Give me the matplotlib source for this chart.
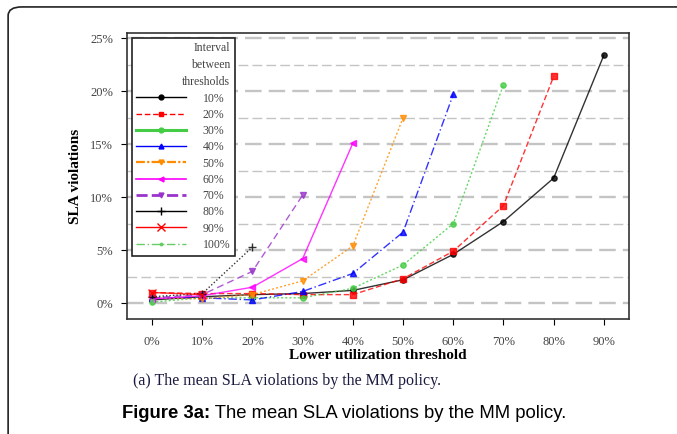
import numpy as np
import matplotlib.pyplot as plt
from matplotlib.lines import Line2D
from matplotlib.patches import FancyBboxPatch

lower_thr = [0, 10, 20, 30, 40, 50, 60, 70, 80, 90]
x_labels = ['0%', '10%', '20%', '30%', '40%', '50%', '60%', '70%', '80%', '90%']
intervals = ['10%', '20%', '30%', '40%', '50%', '60%', '70%', '80%', '90%', '100%']

# SLA violations (%) per interval, one value per lower threshold
sla_10 = [0.3, 0.6, 0.8, 0.9, 1.2, 2.2, 4.6, 7.7, 11.8, 23.4]
sla_20 = [1.0, 0.9, 0.9, 0.8, 0.8, 2.3, 4.9, 9.2, 21.4]
sla_30 = [0.1, 0.5, 0.5, 0.5, 1.4, 3.6, 7.5, 20.6]
sla_40 = [0.5, 0.5, 0.3, 1.1, 2.8, 6.7, 19.7]
sla_50 = [0.5, 0.4, 0.8, 2.1, 5.4, 17.5]
sla_60 = [0.4, 0.7, 1.5, 4.2, 15.1]
sla_70 = [0.5, 0.8, 3.0, 10.2]
sla_80 = [0.6, 0.9, 5.3]
sla_90 = [1.0, 0.8]
sla_100 = [0.2]
series = [sla_10, sla_20, sla_30, sla_40, sla_50, sla_60, sla_70, sla_80, sla_90, sla_100]

# (color, chart linestyle, legend linestyle, legend width, marker)
styles = [
    ('black', '-', '-', 1.0, 'o'),
    ('red', (0, (4, 2)), (0, (4, 2)), 1.0, 's'),
    ('#44cc44', (0, (1.5, 1.5)), '-', 2.2, 'o'),
    ('blue', (0, (6, 2, 1, 2)), '-', 1.0, '^'),
    ('darkorange', (0, (1.5, 1.5)), (0, (4, 1, 1, 1)), 1.6, 'v'),
    ('magenta', '-', '-', 1.2, '<'),
    ('#9933cc', (0, (5, 3)), (0, (4, 1.5)), 2.0, 'v'),
    ('black', (0, (1, 1.5)), '-', 1.0, '+'),
    ('red', '-', '-', 1.0, 'x'),
    ('#66cc66', (0, (6, 2, 1, 2)), (0, (6, 2, 1, 2)), 1.0, '.'),
]

plt.rcParams['font.family'] = ['Liberation Serif', 'DejaVu Serif']

fig = plt.figure(figsize=(6.77, 4.34), dpi=100)
ax = fig.add_axes([0.1876, 0.265, 0.7414, 0.659])

for vals, (c, ls, _, lw, m) in zip(series, styles):
    xs = lower_thr[:len(vals)]
    ax.plot(xs, vals, color=c, linestyle=ls, linewidth=1.0, marker=m,
            markersize=3.8 if m not in ('.', '+', 'x') else 5.5, alpha=0.8)

ax.set_xlim(-5, 95)
ax.set_ylim(-1.5, 25.5)
ax.set_xticks(lower_thr)
ax.set_xticklabels(x_labels)
ax.set_yticks([0, 5, 10, 15, 20, 25])
ax.set_yticklabels(['0%', '5%', '10%', '15%', '20%', '25%'])
ax.tick_params(direction='out', length=4, labelsize=9, labelcolor='#444444', pad=6)
ax.tick_params(axis='x', pad=8)

for v in np.arange(0, 25.1, 2.5):
    major = (v % 5 == 0)
    ax.axhline(v, color='#c4c4c4', linestyle=(0, (7, 3)),
               linewidth=1.7 if major else 1.0, zorder=0)

for s in ax.spines.values():
    s.set_linewidth(1.2)
    s.set_color('#333333')

ax.set_xlabel('Lower utilization threshold', fontsize=11, fontweight='bold', labelpad=1)
ax.set_ylabel('SLA violations', fontsize=11, fontweight='bold', labelpad=6)

handles = []
for (c, _, lls, lw, m) in styles:
    handles.append(Line2D([], [], color=c, linestyle=lls, linewidth=lw, marker=m,
                          markersize=3.5 if m not in ('+', 'x') else 5.5))
leg = ax.legend(handles, intervals, title='Interval\nbetween\nthresholds',
                loc='upper left', markerfirst=True, fontsize=8.5, title_fontsize=8.5,
                frameon=True, fancybox=False, edgecolor='#222222', framealpha=1,
                handlelength=4.2, handletextpad=1.4, borderaxespad=0.4,
                labelspacing=0.36, alignment='right', bbox_to_anchor=(0.0, 1.0))
leg.get_frame().set_linewidth(1.2)
for t in leg.get_texts():
    t.set_ha('right')
    t.set_color('#444444')
leg.get_title().set_color('#444444')
leg.get_title().set_multialignment('right')
leg.get_title().set_linespacing(1.55)

fig.text(0.196, 0.121, '(a) The mean SLA violations by the MM policy.',
         fontsize=11.5, color='#1a1a40', ha='left', va='center')
t1 = fig.text(0.18, 0.048, 'Figure 3a:', fontsize=13.3, fontweight='bold',
              family='Liberation Sans', ha='left', va='center')
t2 = fig.text(0.0, 0.048, ' The mean SLA violations by the MM policy.', fontsize=13.3,
              family='Liberation Sans', ha='left', va='center')
fig.canvas.draw()
bb = t1.get_window_extent().transformed(fig.transFigure.inverted())
t2.set_position((bb.x1, 0.048))

border = FancyBboxPatch((0.012, -0.1), 1.2, 1.084, transform=fig.transFigure,
                        boxstyle='round,pad=0,rounding_size=0.02',
                        facecolor='none', edgecolor='#222222', linewidth=1.2)
fig.patches.append(border)

fig.savefig('out.png', dpi=100)
